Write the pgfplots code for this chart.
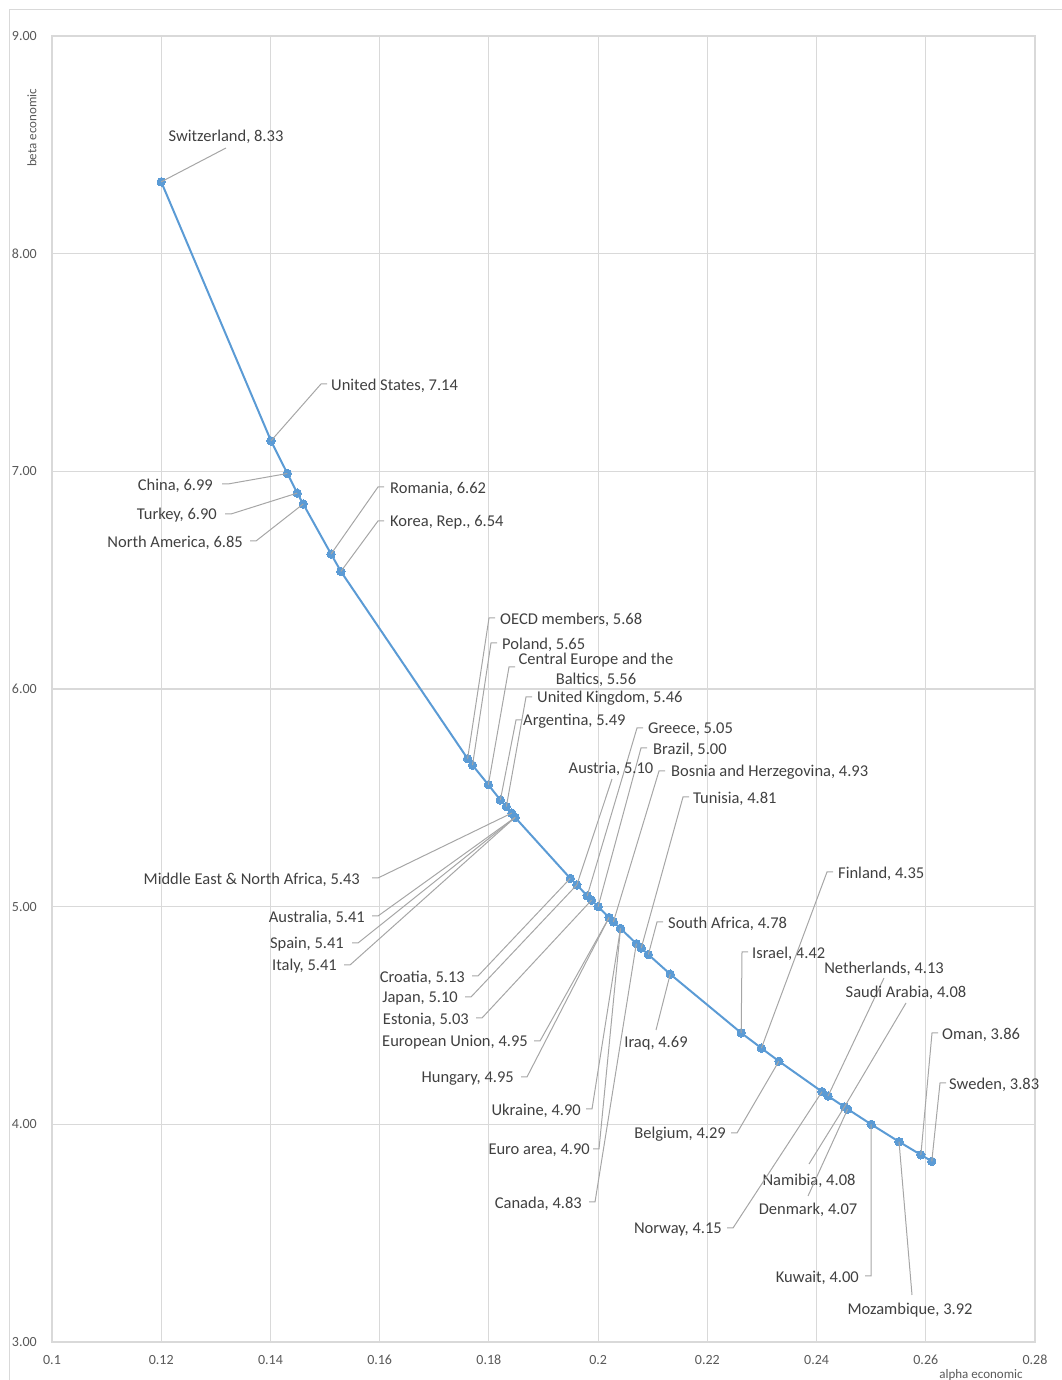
\documentclass[border=0pt]{standalone}
\usepackage{pgfplots}
\usepackage{pgfplotstable}
\pgfplotsset{compat=1.18}
\usepackage{fontspec}
\setmainfont{Carlito}
\definecolor{ser}{HTML}{5B9BD5}
\definecolor{grd}{HTML}{D9D9D9}
\definecolor{ldr}{HTML}{A6A6A6}
\definecolor{txt}{HTML}{404040}
\definecolor{tck}{HTML}{595959}

\pgfplotstableread{
x y
0.1200 8.33
0.1401 7.14
0.1431 6.99
0.1449 6.90
0.1460 6.85
0.1511 6.62
0.1529 6.54
0.1761 5.68
0.1770 5.65
0.1799 5.56
0.1821 5.49
0.1832 5.46
0.1842 5.43
0.1848 5.41
0.1848 5.41
0.1848 5.41
0.1949 5.13
0.1961 5.10
0.1961 5.10
0.1980 5.05
0.1988 5.03
0.2000 5.00
0.2020 4.95
0.2020 4.95
0.2028 4.93
0.2041 4.90
0.2041 4.90
0.2070 4.83
0.2079 4.81
0.2092 4.78
0.2132 4.69
0.2262 4.42
0.2299 4.35
0.2331 4.29
0.2410 4.15
0.2421 4.13
0.2451 4.08
0.2451 4.08
0.2457 4.07
0.2500 4.00
0.2551 3.92
0.2591 3.86
0.2611 3.83
}\datatable

\tikzset{lab/.style={font=\fontsize{16.5}{19}\selectfont, text=txt, inner sep=0pt, yshift=-1.5pt}}
% right label: point, elbow x, elbow y, label left x, text
\newcommand\R[5]{\draw[ldr, line width=1pt] (#1) -- (#2,#3) -- ++(6,0); \node[lab,anchor=west] at (#4,#3) {#5};}
% left label: point, elbow x, elbow y, label right x, text
\newcommand\Ll[5]{\draw[ldr, line width=1pt] (#1) -- (#2,#3) -- ++(-6,0); \node[lab,anchor=east] at (#4,#3) {#5};}
% free label: point, end x, end y, centre x, centre y, text
\newcommand\F[6]{\draw[ldr, line width=1pt] (#1) -- (#2,#3); \node[lab] at (#4,#5) {#6};}

\begin{document}
\begin{tikzpicture}[x=1pt,y=1pt]
\useasboundingbox (0,0) rectangle (1061,1380);
\draw[grd, line width=1pt] (9,-20) -- (9,1370) -- (1080,1370);
\begin{axis}[
  at={(52pt,38pt)}, anchor=south west,
  scale only axis, width=983pt, height=1306pt,
  xmin=0.1, xmax=0.28, ymin=3, ymax=9,
  xtick={0.1,0.12,0.14,0.16,0.18,0.2,0.22,0.24,0.26,0.28},
  xticklabels={0.1,0.12,0.14,0.16,0.18,0.2,0.22,0.24,0.26,0.28},
  ytick={3,4,5,6,7,8,9},
  yticklabels={3.00,4.00,5.00,6.00,7.00,8.00,9.00},
  grid=major,
  major grid style={grd, line width=1.2pt},
  axis line style={grd, line width=1.2pt},
  major tick length=0pt,
  tick label style={font=\fontsize{14}{16}\selectfont, text=tck, inner sep=0pt},
  xticklabel style={anchor=center, yshift=-18pt},
  yticklabel style={anchor=east, xshift=-15pt},
  clip=false,
]
\addplot[ser, line width=2pt, mark=*, mark size=4.2pt, mark options={fill=ser, draw=ser, line width=0pt}] table[x=x,y=y] {\datatable};
\coordinate (ch) at (axis cs:0.1200,8.33);
\coordinate (us) at (axis cs:0.1401,7.14);
\coordinate (cn) at (axis cs:0.1431,6.99);
\coordinate (tr) at (axis cs:0.1449,6.90);
\coordinate (na) at (axis cs:0.1460,6.85);
\coordinate (ro) at (axis cs:0.1511,6.62);
\coordinate (ko) at (axis cs:0.1529,6.54);
\coordinate (oe) at (axis cs:0.1761,5.68);
\coordinate (pl) at (axis cs:0.1770,5.65);
\coordinate (ce) at (axis cs:0.1799,5.56);
\coordinate (ar) at (axis cs:0.1821,5.49);
\coordinate (uk) at (axis cs:0.1832,5.46);
\coordinate (me) at (axis cs:0.1842,5.43);
\coordinate (au) at (axis cs:0.1848,5.41);
\coordinate (hr) at (axis cs:0.1949,5.13);
\coordinate (at) at (axis cs:0.1961,5.10);
\coordinate (gr) at (axis cs:0.1980,5.05);
\coordinate (ee) at (axis cs:0.1988,5.03);
\coordinate (br) at (axis cs:0.2000,5.00);
\coordinate (eu) at (axis cs:0.2020,4.95);
\coordinate (bh) at (axis cs:0.2028,4.93);
\coordinate (ua) at (axis cs:0.2041,4.90);
\coordinate (ca) at (axis cs:0.2070,4.83);
\coordinate (tn) at (axis cs:0.2079,4.81);
\coordinate (za) at (axis cs:0.2092,4.78);
\coordinate (iq) at (axis cs:0.2132,4.69);
\coordinate (il) at (axis cs:0.2262,4.42);
\coordinate (fi) at (axis cs:0.2299,4.35);
\coordinate (be) at (axis cs:0.2331,4.29);
\coordinate (no) at (axis cs:0.2410,4.15);
\coordinate (nl) at (axis cs:0.2421,4.13);
\coordinate (sa) at (axis cs:0.2451,4.08);
\coordinate (dk) at (axis cs:0.2457,4.07);
\coordinate (kw) at (axis cs:0.2500,4.00);
\coordinate (mz) at (axis cs:0.2551,3.92);
\coordinate (om) at (axis cs:0.2591,3.86);
\coordinate (se) at (axis cs:0.2611,3.83);
\end{axis}
\begin{scope}[x=1pt,y=-1pt,shift={(0pt,1380pt)}]
\node[font=\fontsize{13}{15}\selectfont, text=tck, rotate=90] at (32,128) {beta economic};
\node[font=\fontsize{13}{15}\selectfont, text=tck] at (981,1375) {alpha economic};
\F{ch}{226}{148}{226}{135}{Switzerland, 8.33}
\R{us}{321}{384}{331}{United States, 7.14}
\Ll{cn}{228}{484}{213}{China, 6.99}
\Ll{tr}{231}{514}{217}{Turkey, 6.90}
\Ll{na}{256}{541}{243}{North America, 6.85}
\R{ro}{378}{487}{390}{Romania, 6.62}
\R{ko}{378}{521}{390}{Korea, Rep., 6.54}
\R{oe}{489}{618}{500}{OECD members, 5.68}
\R{pl}{491}{643}{502}{Poland, 5.65}
\draw[ldr, line width=1pt] (ce) -- (509,667) -- ++(6,0);
\node[lab, align=center] at (596,668) {Central Europe and the\\[1pt]Baltics, 5.56};
\R{uk}{526}{697}{537}{United Kingdom, 5.46}
\R{ar}{516}{720}{523}{Argentina, 5.49}
\R{gr}{637}{728}{648}{Greece, 5.05}
\R{br}{641}{748}{653}{Brazil, 5.00}
\F{at}{612}{779}{611}{767}{Austria, 5.10}
\R{bh}{659}{771}{671}{Bosnia and Herzegovina, 4.93}
\R{tn}{683}{797}{693}{Tunisia, 4.81}
\Ll{me}{378}{878}{360}{Middle East \& North Africa, 5.43}
\Ll{au}{378}{916}{365}{Australia, 5.41}
\Ll{au}{358}{943}{344}{Spain, 5.41}
\Ll{au}{350}{965}{337}{Italy, 5.41}
\Ll{hr}{478}{976}{465}{Croatia, 5.13}
\Ll{at}{471}{997}{458}{Japan, 5.10}
\Ll{ee}{482}{1018}{469}{Estonia, 5.03}
\Ll{eu}{540}{1041}{528}{European Union, 4.95}
\Ll{eu}{527}{1077}{514}{Hungary, 4.95}
\Ll{ua}{592}{1109}{581}{Ukraine, 4.90}
\Ll{ua}{599}{1149}{590}{Euro area, 4.90}
\Ll{ca}{595}{1202}{582}{Canada, 4.83}
\R{za}{657}{922}{668}{South Africa, 4.78}
\F{iq}{656}{1030}{656}{1042}{Iraq, 4.69}
\R{il}{742}{952}{752}{Israel, 4.42}
\R{fi}{827}{872}{838}{Finland, 4.35}
\F{nl}{884}{978}{884}{967}{Netherlands, 4.13}
\F{sa}{906}{1003}{906}{991}{Saudi Arabia, 4.08}
\R{om}{932}{1033}{942}{Oman, 3.86}
\R{se}{940}{1083}{949}{Sweden, 3.83}
\Ll{be}{737}{1133}{726}{Belgium, 4.29}
\F{sa}{809}{1164}{809}{1179}{Namibia, 4.08}
\F{dk}{808}{1196}{808}{1208}{Denmark, 4.07}
\Ll{no}{733}{1228}{722}{Norway, 4.15}
\Ll{kw}{871}{1276}{859}{Kuwait, 4.00}
\F{mz}{912}{1295}{910}{1309}{Mozambique, 3.92}
\end{scope}
\end{tikzpicture}
\end{document}
